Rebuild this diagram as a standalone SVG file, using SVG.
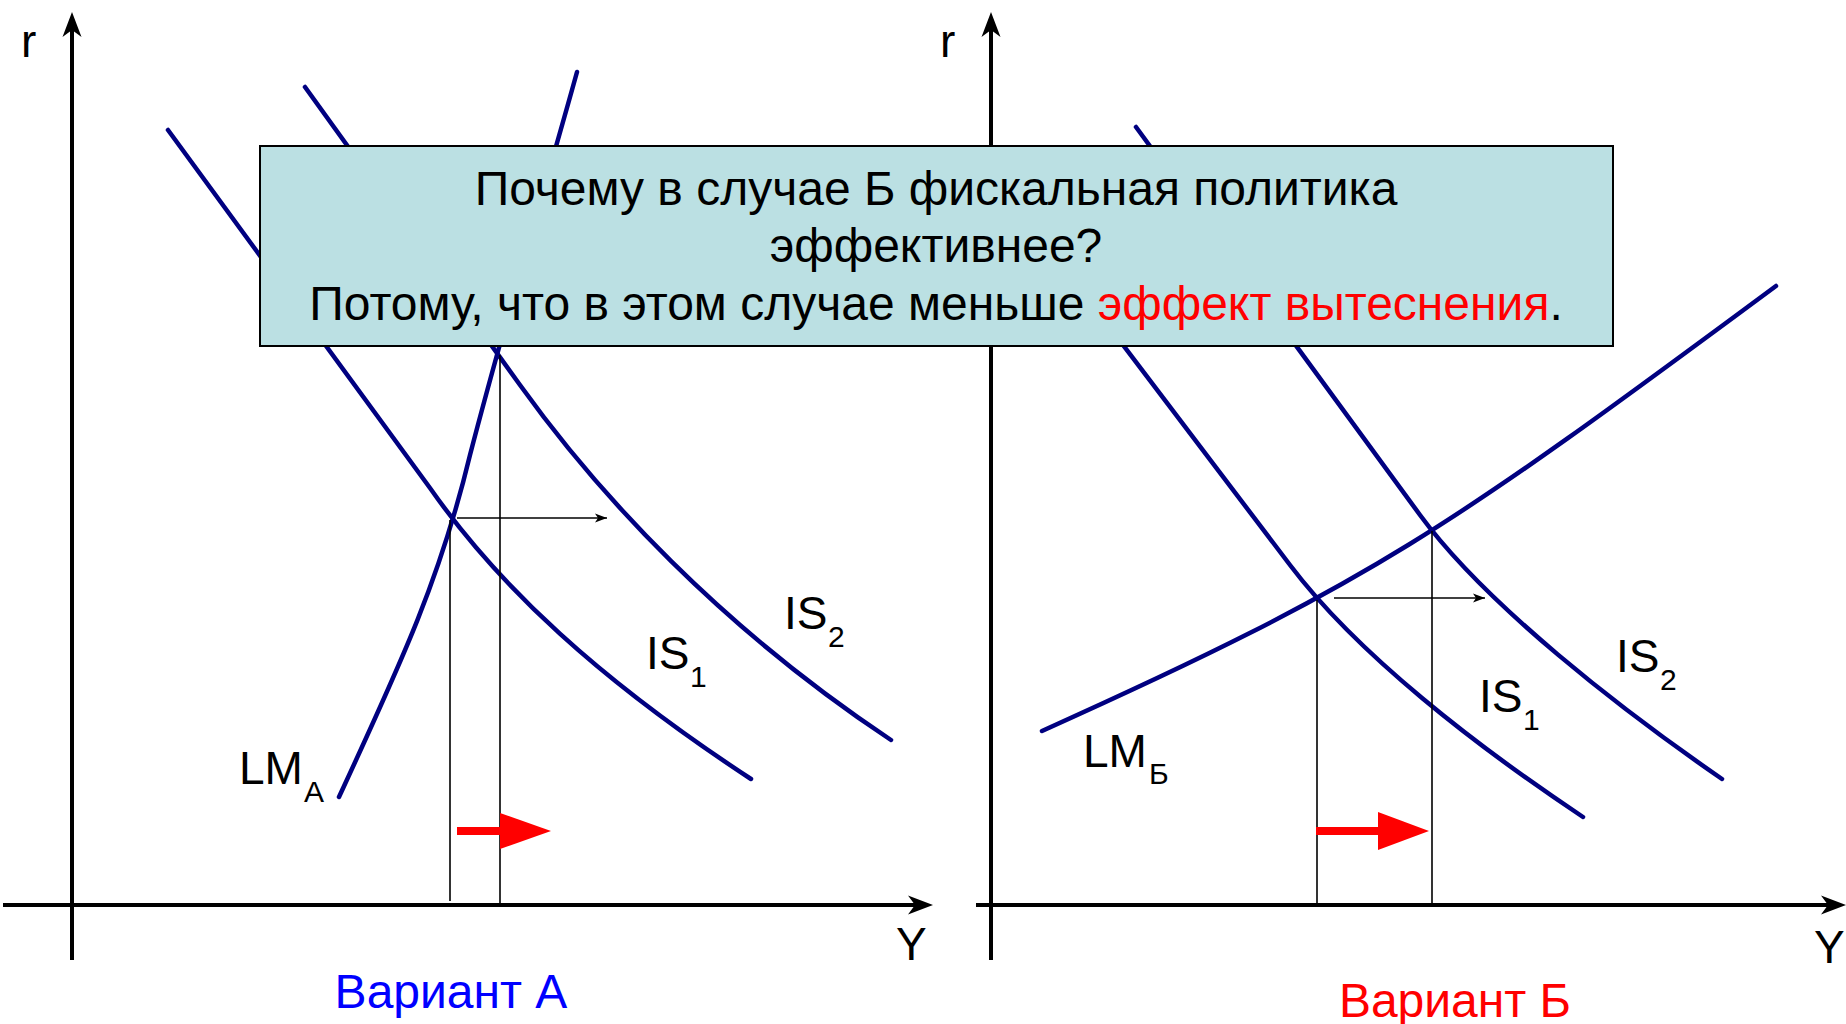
<svg xmlns="http://www.w3.org/2000/svg" width="1846" height="1024" viewBox="0 0 1846 1024">
<style>
  text { font-family: "Liberation Sans", Arial, sans-serif; fill: #000; }
  .lbl { font-size: 46px; }
  .cap { font-size: 48px; }
  .sub { font-size: 30px; }
  .axis { stroke: #000; stroke-width: 4; fill: none; }
  .curve { stroke: #000080; stroke-width: 4.5; fill: none; stroke-linecap: round; }
  .guide { stroke: #000; stroke-width: 1.6; fill: none; }
  .shift { stroke: #000; stroke-width: 1.6; fill: none; }
  .red { stroke: #FF0000; stroke-width: 8; fill: none; }
  .redhead { fill: #FF0000; stroke: none; }
  .box { fill: #BBE0E3; stroke: #000; stroke-width: 2; }
  .boxtxt { font-size: 48px; text-anchor: middle; }
</style>
<defs>
  <marker id="axhead" viewBox="-26 -10 27 20" markerWidth="27" markerHeight="20" refX="-8" refY="0" orient="auto" markerUnits="userSpaceOnUse">
    <path d="M0,0 L-25,-9.5 L-18,0 L-25,9.5 Z" fill="#000"/>
  </marker>
  <marker id="smhead" viewBox="-13 -5 14 10" markerWidth="14" markerHeight="10" refX="0" refY="0" orient="auto" markerUnits="userSpaceOnUse">
    <path d="M0,0 L-12,-4.5 L-9,0 L-12,4.5 Z" fill="#000"/>
  </marker>
</defs>
<rect width="1846" height="1024" fill="#fff"/>

<g id="panel-a">
  <g id="axes-a">
    <line class="axis" x1="72" y1="960" x2="72" y2="20" marker-end="url(#axhead)"/>
    <line class="axis" x1="3" y1="905" x2="925" y2="905" marker-end="url(#axhead)"/>
    <text class="lbl" x="21" y="57">r</text>
    <text class="lbl" x="896" y="960">Y</text>
  </g>
  <g id="connectors-a">
    <path id="lm-a" class="curve" d="M339,797 C400,665 440,580 470,455 C505,320 550,170 577,72"/>
    <path id="is1-a" class="curve" d="M168,130 L430,488 C500,588 600,680 751,779"/>
    <path id="is2-a" class="curve" d="M305,87 L520,385 C599,495 721,627 891,740"/>
    <line class="guide" x1="450" y1="520" x2="450" y2="901"/>
    <line class="guide" x1="500" y1="355" x2="500" y2="905"/>
    <line class="shift" x1="457" y1="518" x2="607" y2="518" marker-end="url(#smhead)"/>
    <line class="red" x1="457" y1="831" x2="502" y2="831"/>
    <polygon class="redhead" points="500,813 551,831 500,849"/>
  </g>
  <g id="labels-a">
    <text class="lbl" x="239" y="784">LM<tspan class="sub" x="304" y="802">А</tspan></text>
    <text class="lbl" x="646" y="669">IS<tspan class="sub" x="690" y="687">1</tspan></text>
    <text class="lbl" x="784" y="629">IS<tspan class="sub" x="828" y="647">2</tspan></text>
    <text class="cap" x="451" y="1008" text-anchor="middle" style="fill:#0000FF">Вариант А</text>
  </g>
</g>

<g id="panel-b">
  <g id="axes-b">
    <line class="axis" x1="991" y1="960" x2="991" y2="20" marker-end="url(#axhead)"/>
    <line class="axis" x1="976" y1="905" x2="1838" y2="905" marker-end="url(#axhead)"/>
    <text class="lbl" x="940" y="57">r</text>
    <text class="lbl" x="1814" y="963">Y</text>
  </g>
  <g id="connectors-b">
    <path id="lm-b" class="curve" d="M1042,731 C1373,582 1445,531 1776,286"/>
    <path id="is1-b" class="curve" d="M1013,200 L1290,565 C1358,655 1478,747 1583,817"/>
    <path id="is2-b" class="curve" d="M1136,127 L1420,515 C1486,605 1622,710 1722,779"/>
    <line class="guide" x1="1317" y1="600" x2="1317" y2="905"/>
    <line class="guide" x1="1432" y1="531" x2="1432" y2="905"/>
    <line class="shift" x1="1334" y1="598" x2="1485" y2="598" marker-end="url(#smhead)"/>
    <line class="red" x1="1316" y1="831" x2="1380" y2="831"/>
    <polygon class="redhead" points="1378,812 1429,831 1378,850"/>
  </g>
  <g id="labels-b">
    <text class="lbl" x="1083" y="767">LM<tspan class="sub" x="1149" y="784">Б</tspan></text>
    <text class="lbl" x="1479" y="712">IS<tspan class="sub" x="1523" y="730">1</tspan></text>
    <text class="lbl" x="1616" y="672">IS<tspan class="sub" x="1660" y="690">2</tspan></text>
    <text class="cap" x="1455" y="1017" text-anchor="middle" style="fill:#FF0000">Вариант Б</text>
  </g>
</g>

<g id="question-box">
  <rect class="box" x="260" y="146" width="1353" height="200"/>
  <text class="boxtxt" x="936" y="205">Почему в случае Б фискальная политика</text>
  <text class="boxtxt" x="936" y="262">эффективнее?</text>
  <text class="boxtxt" x="936" y="320">Потому, что в этом случае меньше <tspan style="fill:#FF0000">эффект вытеснения</tspan>.</text>
</g>
</svg>
